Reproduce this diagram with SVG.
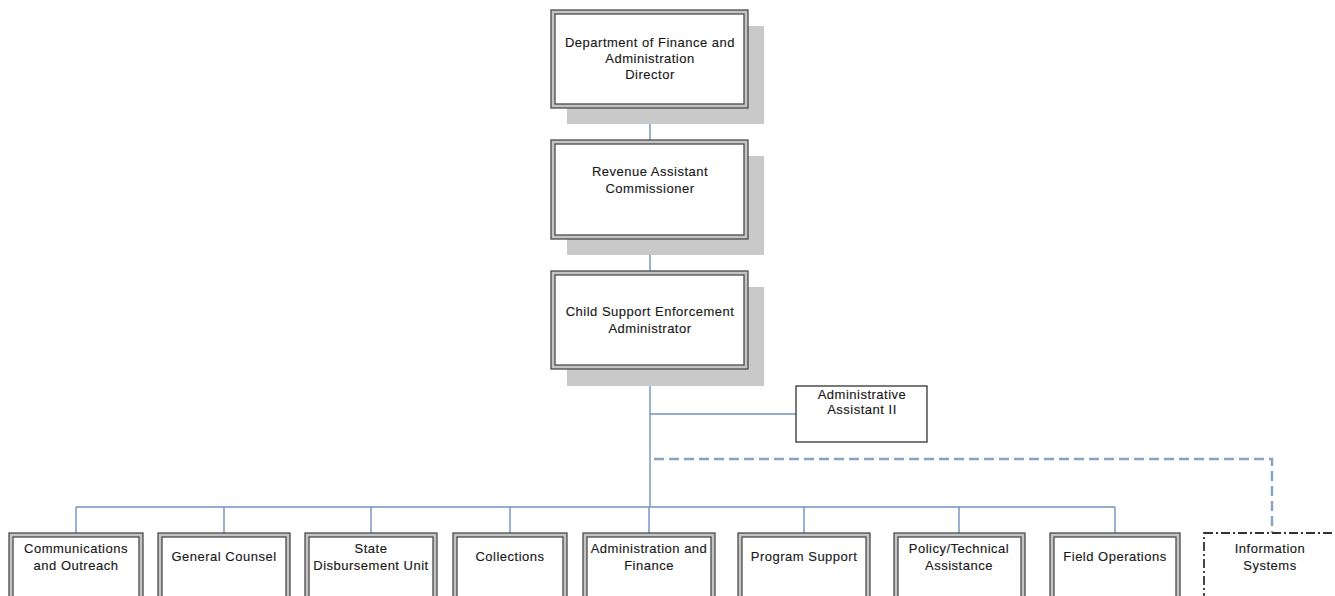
<svg xmlns="http://www.w3.org/2000/svg" width="1335" height="596" viewBox="0 0 1335 596">
<style>
.shadow{fill:#c9c9c9;stroke:none}
.outer{fill:#c4c4c4;stroke:#4a4a4a;stroke-width:1.3}
.inner{fill:#ffffff;stroke:#4a4a4a;stroke-width:1.3}
.single{fill:#ffffff;stroke:#333;stroke-width:1.3}
.dashdot{fill:#ffffff;stroke:#333;stroke-width:1.8;stroke-dasharray:9,3,2,3}
.t{font-family:"Liberation Sans",Arial,sans-serif;font-size:13px;letter-spacing:0.5px;fill:#1a1a1a;stroke:#1a1a1a;stroke-width:0.15;text-anchor:middle}
.c{fill:none;stroke:#7090c0;stroke-width:1.4}
.d{fill:none;stroke:#8aa0c4;stroke-width:2.4;stroke-dasharray:10,5}
</style>
<rect width="1335" height="596" fill="#ffffff"/>
<g id="connectors">
<line class="c" x1="650" y1="108" x2="650" y2="140"/>
<line class="c" x1="650" y1="239" x2="650" y2="271"/>
<line class="c" x1="650" y1="369" x2="650" y2="507"/>
<line class="c" x1="650" y1="414" x2="796" y2="414"/>
<polyline class="d" points="654,459 1272,459 1272,533"/>
<line class="c" x1="76" y1="507" x2="1115" y2="507"/>
<line class="c" x1="76" y1="507" x2="76" y2="533"/>
<line class="c" x1="224" y1="507" x2="224" y2="533"/>
<line class="c" x1="371" y1="507" x2="371" y2="533"/>
<line class="c" x1="510" y1="507" x2="510" y2="533"/>
<line class="c" x1="649" y1="507" x2="649" y2="533"/>
<line class="c" x1="804" y1="507" x2="804" y2="533"/>
<line class="c" x1="959" y1="507" x2="959" y2="533"/>
<line class="c" x1="1115" y1="507" x2="1115" y2="533"/>
</g>
<g id="director">
<rect class="shadow" x="567" y="26" width="197" height="98"/>
<rect class="outer" x="551" y="10" width="197" height="98"/>
<rect class="inner" x="555" y="14" width="189" height="90"/>
<text class="t" x="650" y="47">Department of Finance and</text>
<text class="t" x="650" y="63">Administration</text>
<text class="t" x="650" y="79">Director</text>
</g>
<g id="revenue">
<rect class="shadow" x="567" y="156" width="197" height="99"/>
<rect class="outer" x="551" y="140" width="197" height="99"/>
<rect class="inner" x="555" y="144" width="189" height="91"/>
<text class="t" x="650" y="176">Revenue Assistant</text>
<text class="t" x="650" y="193">Commissioner</text>
</g>
<g id="cse">
<rect class="shadow" x="567" y="287" width="197" height="99"/>
<rect class="outer" x="551" y="271" width="197" height="98"/>
<rect class="inner" x="555" y="275" width="189" height="90"/>
<text class="t" x="650" y="316">Child Support Enforcement</text>
<text class="t" x="650" y="333">Administrator</text>
</g>
<g id="admin-assistant">
<rect class="single" x="796" y="386" width="131" height="56"/>
<text class="t" x="862" y="399">Administrative</text>
<text class="t" x="862" y="414">Assistant II</text>
</g>
<g id="communications">
<rect class="outer" x="9" y="533" width="134" height="90"/>
<rect class="inner" x="13" y="537" width="126" height="82"/>
<text class="t" x="76" y="553">Communications</text>
<text class="t" x="76" y="570">and Outreach</text>
</g>
<g id="general-counsel">
<rect class="outer" x="158" y="533" width="132" height="90"/>
<rect class="inner" x="162" y="537" width="124" height="82"/>
<text class="t" x="224" y="561">General Counsel</text>
</g>
<g id="state-disbursement">
<rect class="outer" x="305" y="533" width="132" height="90"/>
<rect class="inner" x="309" y="537" width="124" height="82"/>
<text class="t" x="371" y="553">State</text>
<text class="t" x="371" y="570">Disbursement Unit</text>
</g>
<g id="collections">
<rect class="outer" x="453" y="533" width="114" height="90"/>
<rect class="inner" x="457" y="537" width="106" height="82"/>
<text class="t" x="510" y="561">Collections</text>
</g>
<g id="admin-finance">
<rect class="outer" x="583" y="533" width="132" height="90"/>
<rect class="inner" x="587" y="537" width="124" height="82"/>
<text class="t" x="649" y="553">Administration and</text>
<text class="t" x="649" y="570">Finance</text>
</g>
<g id="program-support">
<rect class="outer" x="738" y="533" width="132" height="90"/>
<rect class="inner" x="742" y="537" width="124" height="82"/>
<text class="t" x="804" y="561">Program Support</text>
</g>
<g id="policy">
<rect class="outer" x="894" y="533" width="131" height="90"/>
<rect class="inner" x="898" y="537" width="123" height="82"/>
<text class="t" x="959" y="553">Policy/Technical</text>
<text class="t" x="959" y="570">Assistance</text>
</g>
<g id="field-operations">
<rect class="outer" x="1050" y="533" width="130" height="90"/>
<rect class="inner" x="1054" y="537" width="122" height="82"/>
<text class="t" x="1115" y="561">Field Operations</text>
</g>
<g id="information-systems">
<rect class="dashdot" x="1204" y="533" width="140" height="90"/>
<text class="t" x="1270" y="553">Information</text>
<text class="t" x="1270" y="570">Systems</text>
</g>
</svg>
